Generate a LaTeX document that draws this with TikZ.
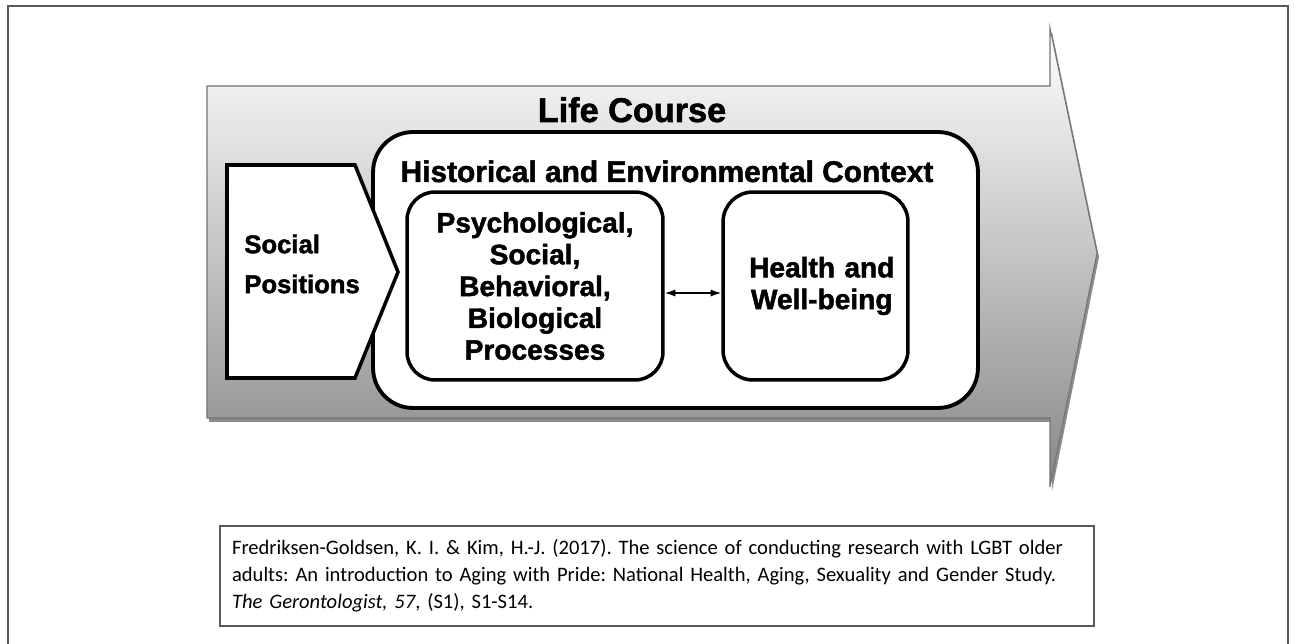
\documentclass[tikz,border=0pt]{standalone}
\usepackage{fontspec}
\setmainfont{Liberation Sans}[BoldFeatures={FakeBold=1.6}]
\newfontfamily\citefont{Carlito}
\usetikzlibrary{arrows.meta}

\begin{document}
\begin{tikzpicture}[x=0.02cm, y=-0.02cm,
    box/.style={draw, line width=2pt, fill=white, align=center, font=\fontsize{16}{18.1}\selectfont\bfseries},
    link/.style={<->, >={Latex[length=6pt,width=4pt]}, line width=0.8pt},
    frame/.style={draw=black!65, line width=1.2pt},
    citebox/.style={draw=black!65, line width=0.9pt, text width=17cm, minimum height=2cm,
        inner xsep=0.24cm, align=left, font=\citefont\fontsize{11.7}{15.3}\selectfont\frenchspacing}]
    \useasboundingbox (0,0) rectangle (1295,644);
    % frame, open at the bottom
    \draw[frame] (8,644) -- (8,6) -- (1288,6) -- (1288,644);
    % life course arrow with its shadow
    \begin{scope}[shift={(2,4)}]
        \fill[black!45] (207,86) -- (1050,86) -- (1050,28) -- (1097,253) -- (1050,487) -- (1050,418) -- (207,418) -- cycle;
    \end{scope}
    \shadedraw[top color=white, bottom color=black!47, draw=black!55, line width=0.6pt]
        (207,86) -- (1050,86) -- (1050,28) -- (1097,253) -- (1050,487) -- (1050,418) -- (207,418) -- cycle;
    \node[anchor=base, font=\fontsize{19.5}{23}\selectfont\bfseries] (life) at (632,122) {Life Course};
    % context
    \node[draw, line width=2.2pt, fill=white, rounded corners=0.8cm, minimum width=12.1cm, minimum height=5.52cm] (context) at (675.5,270) {};
    \node[anchor=base, font=\fontsize{17}{20}\selectfont\bfseries] (ctxtitle) at (667,182) {Historical and Environmental Context};
    % social positions
    \draw[line width=2pt, fill=white] (227,165) -- (355,165) -- (398,272) -- (355,378) -- (227,378) -- cycle;
    \node[anchor=west, inner sep=0, align=left, font=\fontsize{14.6}{22.7}\selectfont\bfseries] (socpos) at (244,264) {Social\\Positions};
    % processes and outcomes
    \node[box, rounded corners=0.56cm, minimum width=5.12cm, minimum height=3.76cm] (psych) at (535,286)
        {Psychological,\\Social,\\Behavioral,\\Biological\\Processes};
    \node[box, rounded corners=0.6cm, minimum width=3.7cm, minimum height=3.76cm, inner xsep=0pt, text width=3.4cm, xshift=0pt] (health) at (815.5,286)
        {\hspace*{0.25cm}Health and\\\hspace*{0.25cm}Well-being};
    \draw[link] ([yshift=-4pt]psych.east) -- ([yshift=-4pt]health.west);
    % reference
    \node[citebox] (cite) at (657,576) {Fredriksen-Goldsen, K. I. \& Kim, H.-J. (2017). The science of conducting research with LGBT older\\
        adults: An introduction to Aging with Pride: National Health, Aging, Sexuality and Gender Study.\\
        \textit{The Gerontologist, 57}, (S1), S1-S14.};
\end{tikzpicture}
\end{document}
